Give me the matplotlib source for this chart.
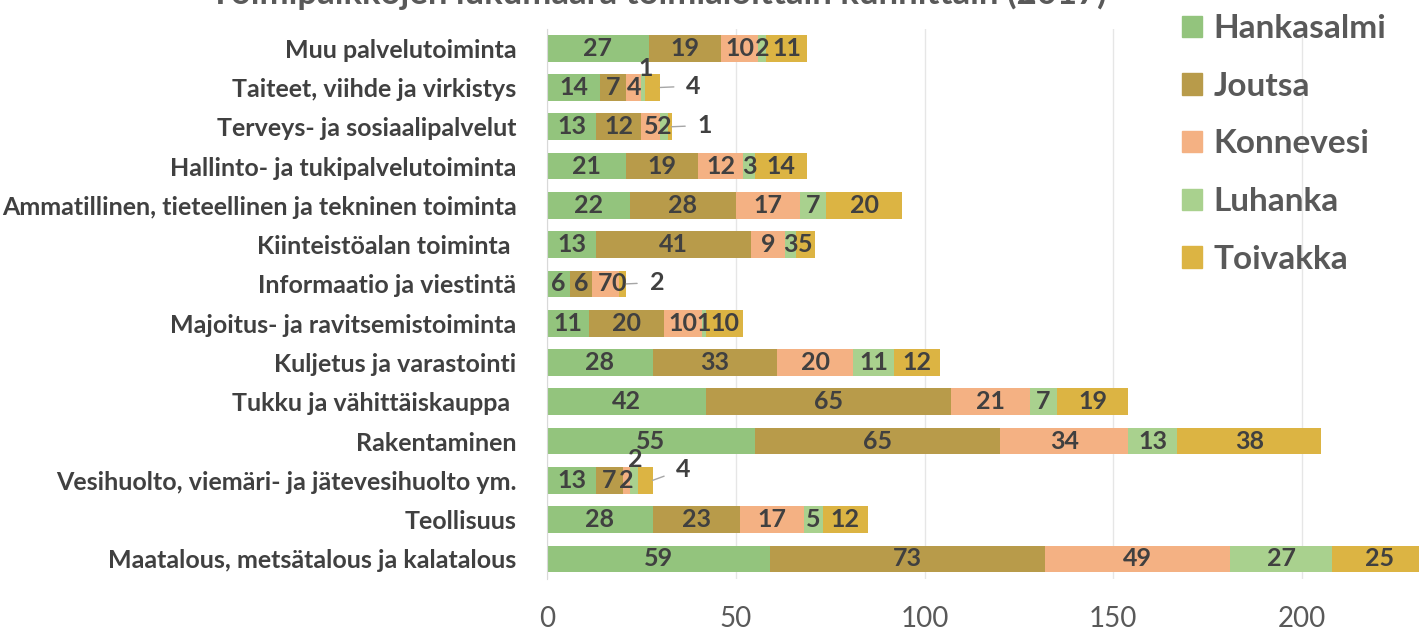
import matplotlib.pyplot as plt
import numpy as np
from matplotlib.patches import Patch

categories = [
    "Muu palvelutoiminta",
    "Taiteet, viihde ja virkistys",
    "Terveys- ja sosiaalipalvelut",
    "Hallinto- ja tukipalvelutoiminta",
    "Ammatillinen, tieteellinen ja tekninen toiminta",
    "Kiinteistöalan toiminta ",
    "Informaatio ja viestintä",
    "Majoitus- ja ravitsemistoiminta",
    "Kuljetus ja varastointi",
    "Tukku ja vähittäiskauppa ",
    "Rakentaminen",
    "Vesihuolto, viemäri- ja jätevesihuolto ym.",
    "Teollisuus",
    "Maatalous, metsätalous ja kalatalous",
]
series_names = ["Hankasalmi", "Joutsa", "Konnevesi", "Luhanka", "Toivakka"]
hankasalmi = [27, 14, 13, 21, 22, 13, 6, 11, 28, 42, 55, 13, 28, 59]
joutsa = [19, 7, 12, 19, 28, 41, 6, 20, 33, 65, 65, 7, 23, 73]
konnevesi = [10, 4, 5, 12, 17, 9, 7, 10, 20, 21, 34, 2, 17, 49]
luhanka = [2, 1, 2, 3, 7, 3, 0, 1, 11, 7, 13, 2, 5, 27]
toivakka = [11, 4, 1, 14, 20, 5, 2, 10, 12, 19, 38, 4, 12, 25]
colors = ["#93c47d", "#b89b4a", "#f4b183", "#a9d18e", "#dcb443"]

# labels that Excel moved outside the bar: (row, series) -> offset in points, leader line?
moved_labels = {
    (1, 3): (2, 14, False),
    (1, 4): (24, 1, True),
    (2, 4): (24, 1, True),
    (6, 4): (22, 1, True),
    (11, 3): (1, 15, False),
    (11, 4): (22, 8, True),
}

plt.rcParams["font.family"] = ["Lato", "DejaVu Sans"]

data = np.array([hankasalmi, joutsa, konnevesi, luhanka, toivakka])
y = np.arange(len(categories))

fig = plt.figure(figsize=(14.19, 6.30), dpi=100)
ax = fig.add_axes([0.3855, 0.0817, 0.6145, 0.873])

left = np.zeros(len(categories))
for i, name in enumerate(series_names):
    vals = data[i]
    ax.barh(y, vals, left=left, height=0.68, color=colors[i], label=name, zorder=2)
    for r, v in enumerate(vals):
        cx = left[r] + v / 2
        if (r, i) in moved_labels:
            dx, dy, leader = moved_labels[(r, i)]
            end = left[r] + v
            if leader:
                ax.annotate(str(v), xy=(end, y[r]), xytext=(dx, dy), textcoords="offset points",
                            ha="center", va="center", fontsize=18, fontweight="bold", color="#404040",
                            arrowprops=dict(arrowstyle="-", color="#a6a6a6", lw=1, shrinkA=7, shrinkB=0))
            else:
                ax.annotate(str(v), xy=(cx, y[r]), xytext=(dx, dy), textcoords="offset points",
                            ha="center", va="center", fontsize=18, fontweight="bold", color="#404040")
        else:
            ax.text(cx, y[r], str(v), ha="center", va="center", fontsize=18,
                    fontweight="bold", color="#404040", zorder=3)
    left = left + vals

ax.set_xlim(0, 231)
ax.set_ylim(len(categories) - 0.5, -0.5)
ax.set_yticks(y)
ax.set_yticklabels(categories, fontsize=18, fontweight="bold", color="#404040")
ax.set_xticks([0, 50, 100, 150, 200])
ax.tick_params(axis="x", labelsize=20, colors="#595959", length=0, pad=20)
ax.tick_params(axis="y", length=0, pad=22)
ax.grid(axis="x", color="#e6e6e6", lw=1, zorder=0)
for s in ["top", "right", "bottom"]:
    ax.spines[s].set_visible(False)
ax.spines["left"].set_color("#d9d9d9")
ax.spines["left"].set_zorder(3)

handles = [Patch(color=c) for c in colors]
fig.legend(handles, series_names, loc="upper left", bbox_to_anchor=(0.821, 1.004),
           frameon=False, borderpad=0, prop={"weight": "bold", "size": 24}, labelcolor="#595959",
           handlelength=0.6, handleheight=0.6, handletextpad=0.35, labelspacing=0.86)

# title is cut off at the top edge, as in the source picture
fig.text(0.464, 0.9937, "Toimipaikkojen lukumäärä toimialoittain kunnittain (2017)",
         ha="center", va="baseline", fontsize=25, fontweight="bold", color="#595959")

fig.savefig("out.png", dpi=100)
